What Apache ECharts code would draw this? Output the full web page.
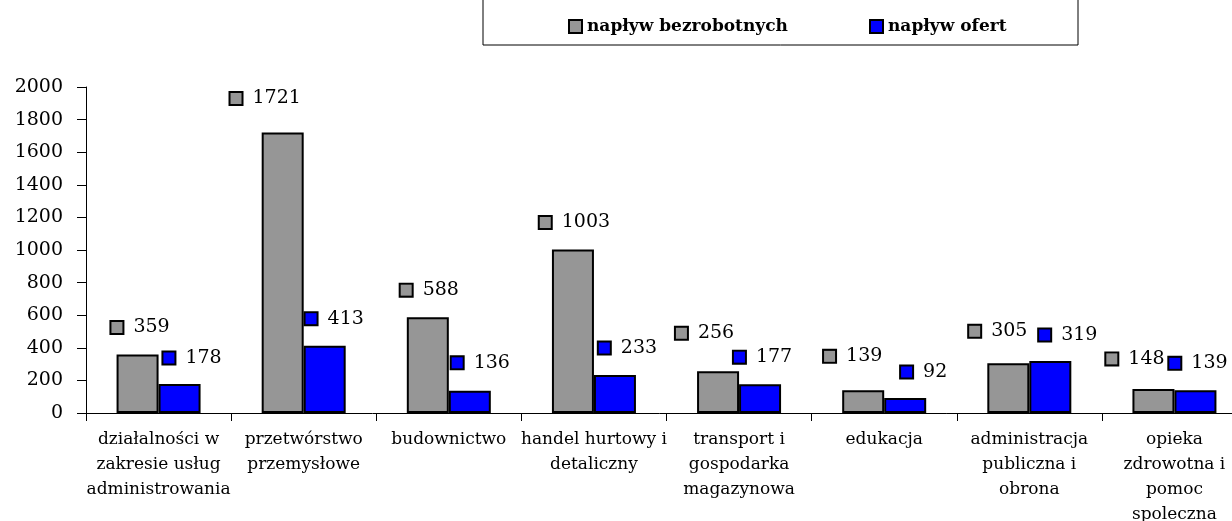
<!DOCTYPE html>
<html>
<head>
<meta charset="utf-8">
<script src="https://cdn.jsdelivr.net/npm/echarts@6/dist/echarts.min.js"></script>
<style>
  html, body { margin: 0; padding: 0; background: #fff; }
  #chart { width: 1232px; height: 521px; }
</style>
</head>
<body>
<div id="chart"></div>
<script>
  // kategorie (sekcje PKD)
  var categories = [
    'działalności w\nzakresie usług\nadministrowania',
    'przetwórstwo\nprzemysłowe',
    'budownictwo',
    'handel hurtowy i\ndetaliczny',
    'transport i\ngospodarka\nmagazynowa',
    'edukacja',
    'administracja\npubliczna i\nobrona',
    'opieka\nzdrowotna i\npomoc\nspoleczna'
  ];
  var naplywBezrobotnych = [359, 1721, 588, 1003, 256, 139, 305, 148];
  var naplywOfert = [178, 413, 136, 233, 177, 92, 319, 139];
  var yTicks = [0, 200, 400, 600, 800, 1000, 1200, 1400, 1600, 1800, 2000];

  // przesunięcia etykiet (jak w excelu, ręcznie poprzesuwane)
  var grayShift = [[3, 27], [-17, 34], [2, 27], [2, 27], [-13, 38], [-10, 34], [-10, 32], [-18, 30]];
  var blueShift = [[13, 26], [10, 27], [11, 28], [13, 27], [3, 27], [19, 26], [18, 26], [3, 27]];

  var FONT = 'DejaVu Serif';
  var GRAY = '#969696';
  var BLUE = '#0000ff';

  function buildData(values, shifts) {
    return values.map(function (v, i) {
      return {
        value: v,
        label: {
          offset: [shifts[i][0], -shifts[i][1]]
        }
      };
    });
  }

  function labelCfg(color) {
    return {
      show: true,
      position: 'top',
      distance: 0,
      align: 'center',
      verticalAlign: 'middle',
      formatter: function (p) {
        return '{sq|}{v|' + p.value + '}';
      },
      rich: {
        sq: {
          width: 11,
          height: 11,
          backgroundColor: color,
          borderColor: '#000',
          borderWidth: 2
        },
        v: {
          fontFamily: FONT,
          fontSize: 19,
          color: '#000',
          padding: [0, 0, 0, 11]
        }
      }
    };
  }

  var myChart = echarts.init(document.getElementById('chart'));
  var option = {
    animation: false,
    backgroundColor: '#fff',
    legend: {
      left: 483,
      top: -20,
      padding: [38, 5, 10, 85],
      itemGap: 20,
      itemWidth: 13,
      itemHeight: 13,
      icon: 'rect',
      borderColor: '#000',
      borderWidth: 1,
      textStyle: {
        fontFamily: FONT,
        fontWeight: 'bold',
        fontSize: 17,
        lineHeight: 16,
        color: '#000'
      },
      data: [
        { name: 'napływ bezrobotnych', textStyle: { width: 262 } },
        { name: 'napływ ofert', textStyle: { width: 185 } }
      ]
    },
    grid: {
      left: 86,
      top: 87,
      right: -15,
      bottom: 108,
      containLabel: false,
      outerBoundsMode: 'none'
    },
    xAxis: {
      type: 'category',
      data: categories,
      axisLine: { show: true, onZero: false, lineStyle: { color: '#000', width: 1 } },
      axisTick: { show: true, inside: false, length: 8, lineStyle: { color: '#000' } },
      axisLabel: {
        interval: 0,
        margin: 14,
        color: '#000',
        fontFamily: FONT,
        fontSize: 17,
        lineHeight: 25
      }
    },
    yAxis: {
      type: 'value',
      min: yTicks[0],
      max: yTicks[yTicks.length - 1],
      interval: 200,
      splitLine: { show: false },
      axisLine: { show: true, lineStyle: { color: '#000', width: 1 } },
      axisTick: { show: true, length: 9, lineStyle: { color: '#000' } },
      axisLabel: {
        margin: 23,
        color: '#000',
        fontFamily: FONT,
        fontSize: 19,
        formatter: function (v) { return String(v); }
      }
    },
    series: [
      {
        name: 'napływ bezrobotnych',
        type: 'bar',
        barWidth: 42,
        barGap: '0%',
        itemStyle: { color: GRAY, borderColor: '#000', borderWidth: 2 },
        label: labelCfg(GRAY),
        data: buildData(naplywBezrobotnych, grayShift)
      },
      {
        name: 'napływ ofert',
        type: 'bar',
        barWidth: 42,
        barGap: '0%',
        itemStyle: { color: BLUE, borderColor: '#000', borderWidth: 2 },
        label: labelCfg(BLUE),
        data: buildData(naplywOfert, blueShift)
      }
    ]
  };
  myChart.setOption(option);
</script>
</body>
</html>
